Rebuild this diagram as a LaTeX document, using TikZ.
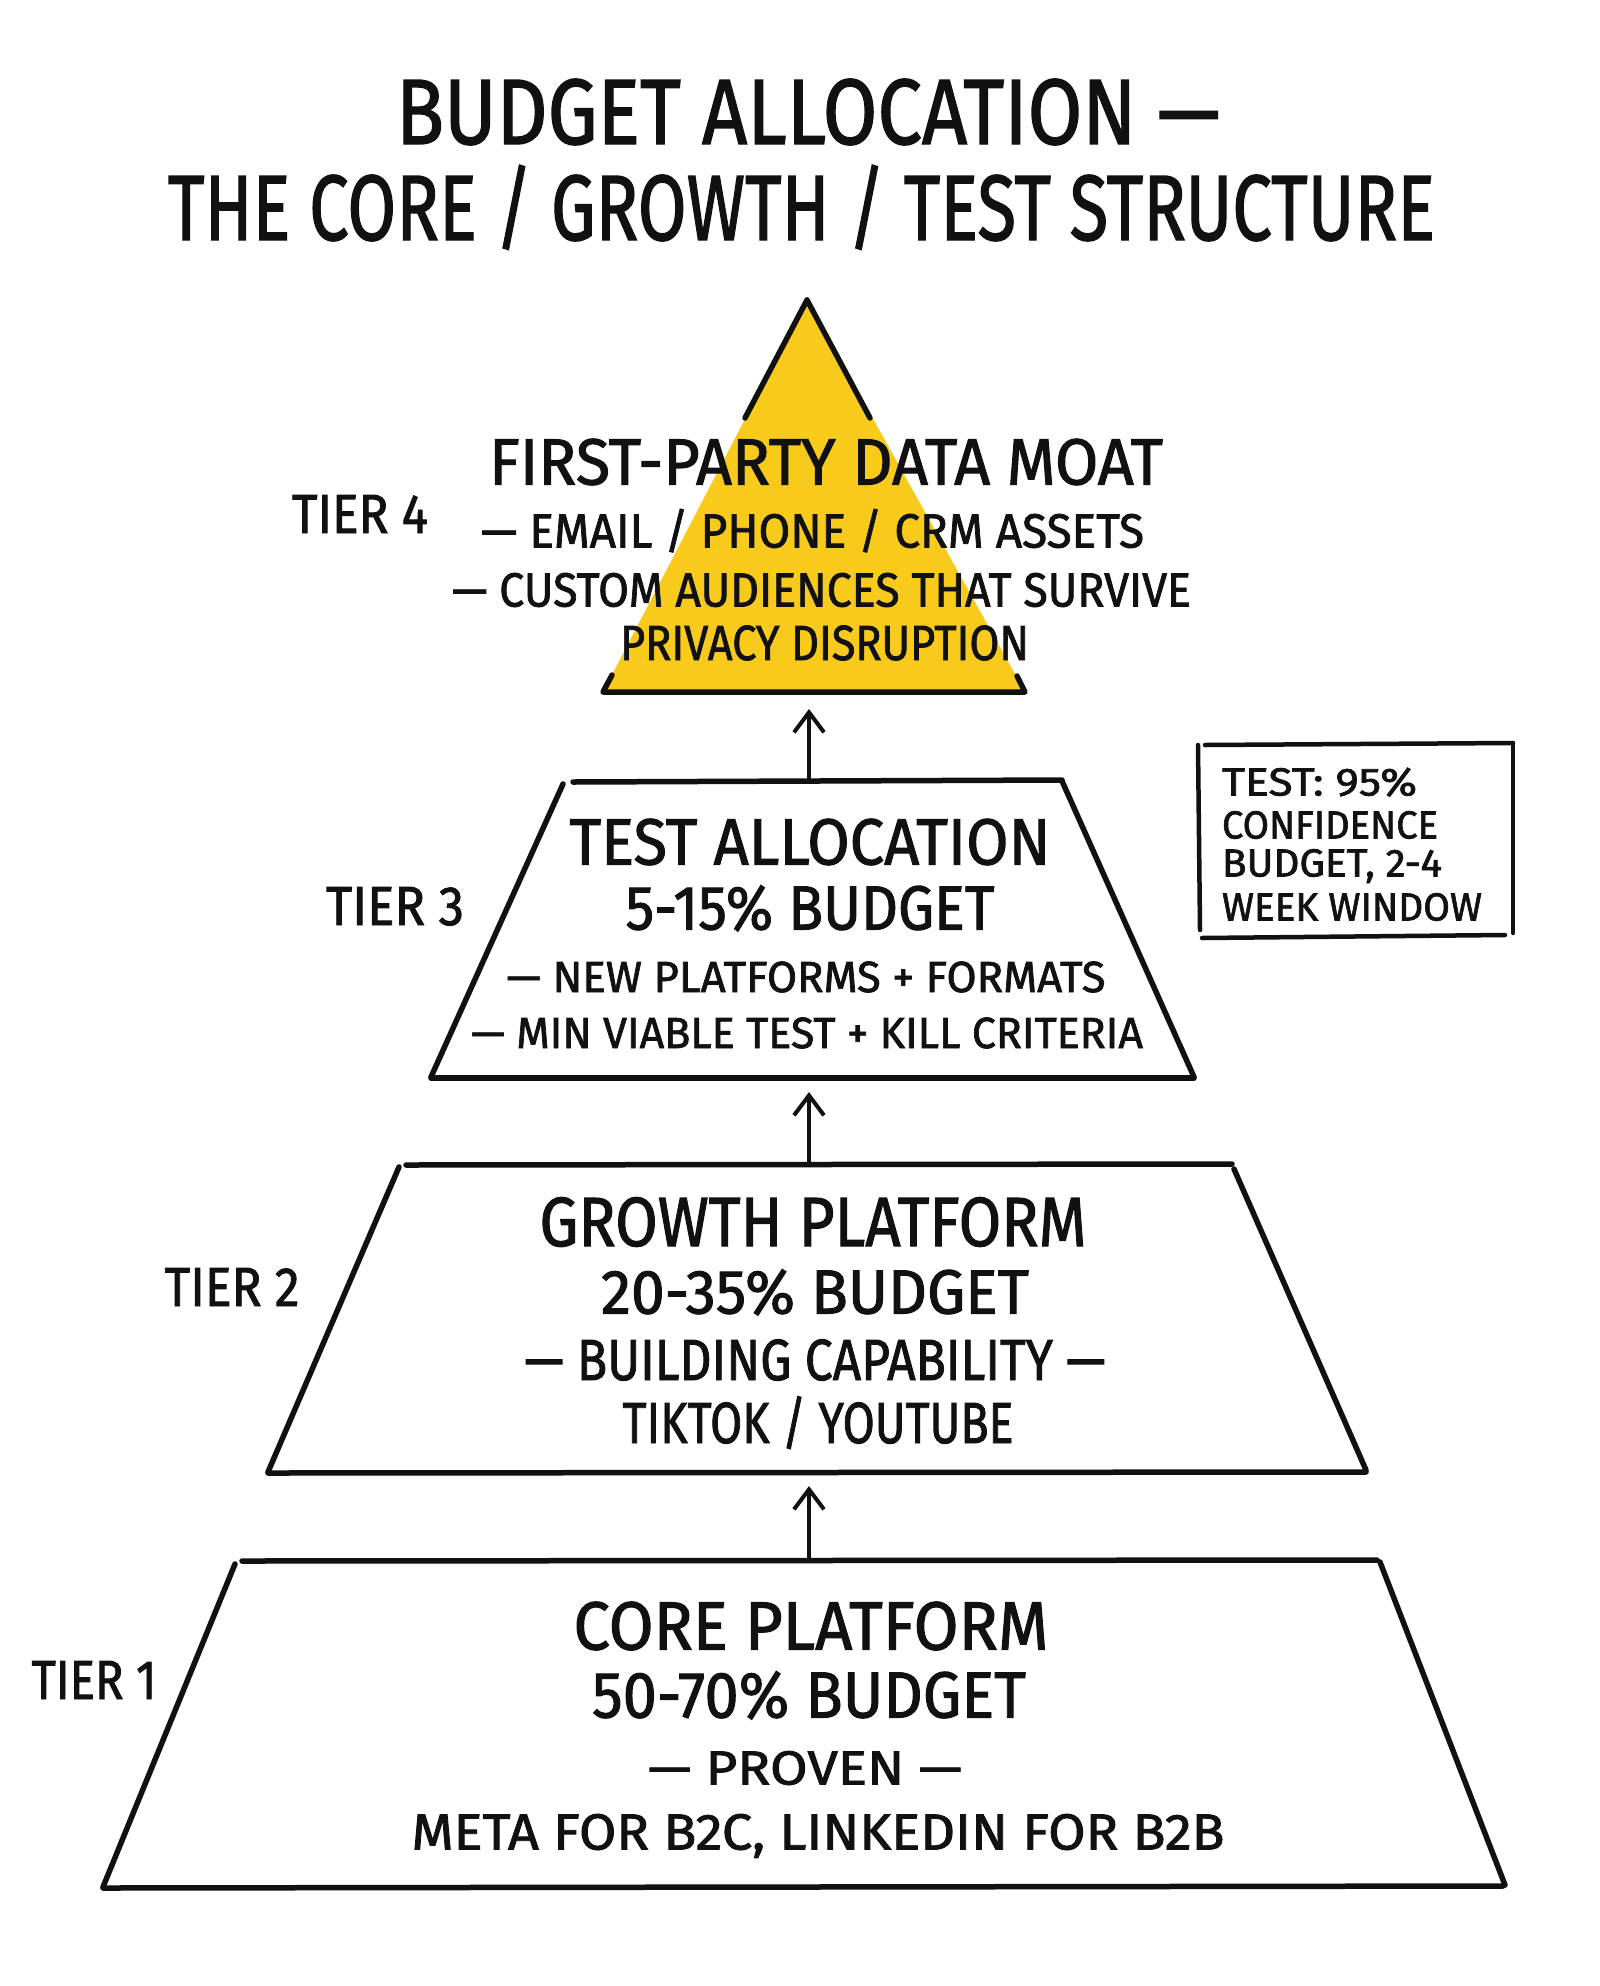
\documentclass[tikz,border=0pt]{standalone}
\usepackage{fontspec}
\setmainfont{Fira Sans}
\newfontfamily\handfont{Fira Sans}[FakeBold=1.6]
\usetikzlibrary{arrows.meta}
\definecolor{moat}{HTML}{F8CA1C}
\definecolor{ink}{HTML}{111111}
\newsavebox\fitbox
\newcommand\fit[3]{%
  \sbox\fitbox{#3}%
  \edef\fitw{\the\wd\fitbox}%
  \edef\fith{\the\fontcharht\font`H}%
  \pgfmathsetmacro\fitsx{#1/\fitw}%
  \pgfmathsetmacro\fitsy{#2/\fith}%
  \scalebox{\fitsx}[\fitsy]{\usebox\fitbox}}
\tikzset{
  txt/.style={inner sep=0pt, outer sep=0pt, anchor=base, text=ink, font=\handfont\fontsize{20}{24}\selectfont},
  ntxt/.style={txt, anchor=base west},
  edge/.style={draw=ink, line width=5.5pt, line cap=round, line join=round},
  thin edge/.style={draw=ink, line width=4.5pt, line cap=round},
  uparrow/.style={draw=ink, line width=4pt, line cap=round,
    -{Straight Barb[length=20pt,width=30pt,line width=4pt]}},
}
\begin{document}
\begin{tikzpicture}[x=1pt,y=-1pt]
\useasboundingbox (0,0) rectangle (1600,1986);
\fill[white] (0,0) rectangle (1600,1986);

% ---------- title ----------
\node[txt] (title1) at (808,144) {\fit{824}{64}{BUDGET ALLOCATION —}};
\node[txt] (title2) at (801.5,240) {\fit{1267}{64}{THE CORE / GROWTH / TEST STRUCTURE}};

% ---------- tier 4 triangle ----------
\coordinate (apex) at (807,300);
\coordinate (triL) at (603,692);
\coordinate (triR) at (1025,692);
\fill[moat] (apex) -- (triL) -- (triR) -- cycle;
\draw[edge] (apex) -- (745,418);
\draw[edge] (apex) -- (870,418);
\draw[edge] (612,675) -- (triL) -- (triR) -- (1017,676);

\node[txt] (m1) at (826,484.5) {\fit{674}{45}{FIRST-PARTY DATA MOAT}};
\node[txt] (m2) at (812.5,547.5) {\fit{663}{33}{— EMAIL / PHONE / CRM ASSETS}};
\node[txt] (m3) at (821.5,606.5) {\fit{739}{33}{— CUSTOM AUDIENCES THAT SURVIVE}};
\node[txt] (m4) at (824.5,660) {\fit{409}{34}{PRIVACY DISRUPTION}};
\node[txt] (tier4) at (360,533) {\fit{136}{38}{TIER 4}};

% ---------- tier 3 ----------
\draw[edge] (573,782) -- (1062,780);
\draw[edge] (563,784) -- (431,1077);
\draw[edge] (1062,781) -- (1194,1077);
\draw[edge] (431,1078) -- (1194,1078);
\coordinate (t3top) at (809,781);
\coordinate (t3bot) at (809,1078);

\node[txt] (a1) at (810,864.5) {\fit{481}{45}{TEST ALLOCATION}};
\node[txt] (a2) at (810,929.5) {\fit{369}{43}{5-15\% BUDGET}};
\node[txt] (a3) at (806,992) {\fit{599}{30}{— NEW PLATFORMS + FORMATS}};
\node[txt] (a4) at (807,1048) {\fit{672}{30}{— MIN VIABLE TEST + KILL CRITERIA}};
\node[txt] (tier3) at (395,925) {\fit{138}{38}{TIER 3}};

% ---------- note ----------
\draw[thin edge] (1205,745) -- (1513,743);
\draw[thin edge] (1198,745) -- (1200,930);
\draw[thin edge] (1202,938) -- (1505,935);
\draw[thin edge] (1513,743) -- (1513,933);
\node[ntxt] (n1) at (1222,795.5) {\fit{195}{27}{TEST: 95\%}};
\node[ntxt] (n2) at (1222,838.5) {\fit{216}{27}{CONFIDENCE}};
\node[ntxt] (n3) at (1222,876.5) {\fit{220}{27}{BUDGET, 2-4}};
\node[ntxt] (n4) at (1222,920.5) {\fit{260}{27}{WEEK WINDOW}};

% ---------- tier 2 ----------
\draw[edge] (406,1165) -- (1232,1164);
\draw[edge] (399,1167) -- (268,1472);
\draw[edge] (1234,1169) -- (1366,1470);
\draw[edge] (268,1473) -- (1366,1472);
\coordinate (t2top) at (809,1164);
\coordinate (t2bot) at (809,1473);

\node[txt] (b1) at (813,1246) {\fit{547}{48}{GROWTH PLATFORM}};
\node[txt] (b2) at (815,1313.5) {\fit{428}{43}{20-35\% BUDGET}};
\node[txt] (b3) at (815,1380) {\fit{581}{40}{— BUILDING CAPABILITY —}};
\node[txt] (b4) at (818,1443) {\fit{391}{40}{TIKTOK / YOUTUBE}};
\node[txt] (tier2) at (232,1306) {\fit{135}{38}{TIER 2}};

% ---------- tier 1 ----------
\draw[edge] (242,1561) -- (1377,1560);
\draw[edge] (235,1564) -- (103,1887);
\draw[edge] (1380,1562) -- (1505,1885);
\draw[edge] (103,1888) -- (1503,1886);
\coordinate (t1top) at (809,1560);

\node[txt] (c1) at (811,1649.5) {\fit{475}{47}{CORE PLATFORM}};
\node[txt] (c2) at (809,1717.5) {\fit{434}{45}{50-70\% BUDGET}};
\node[txt] (c3) at (805,1784.5) {\fit{314}{33}{— PROVEN —}};
\node[txt] (c4) at (818,1849.5) {\fit{813}{35}{META FOR B2C, LINKEDIN FOR B2B}};
\node[txt] (tier1) at (94,1699) {\fit{125}{38}{TIER 1}};

% ---------- arrows ----------
\coordinate (triTip) at (809,709);
\coordinate (t3tip) at (809,1092);
\coordinate (t2tip) at (809,1486);
\draw[uparrow] (t3top) -- (triTip);
\draw[uparrow] (t2top) -- (t3tip);
\draw[uparrow] (t1top) -- (t2tip);
\end{tikzpicture}
\end{document}
